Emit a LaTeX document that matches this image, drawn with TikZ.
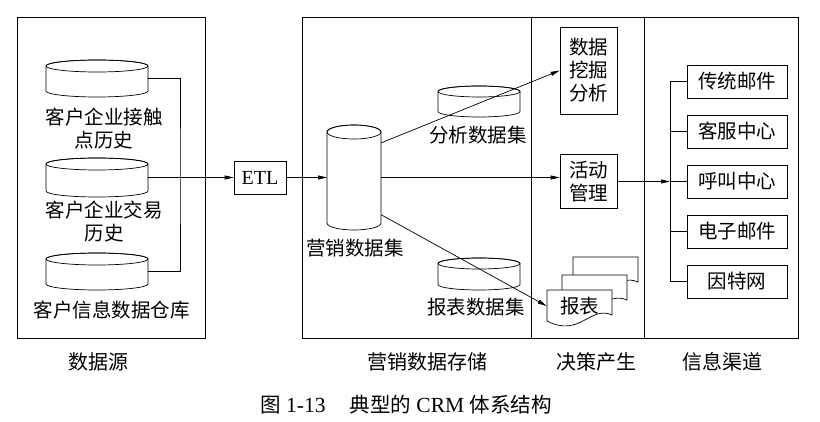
\documentclass[tikz,border=0pt]{standalone}
\usepackage{fontspec}
\setmainfont{Liberation Serif}
\newfontfamily\cjk{Noto Sans CJK SC}
\usetikzlibrary{arrows.meta}

\tikzset{
  zh/.style={font=\cjk\fontsize{19.5}{23}\selectfont, inner sep=0pt, align=center},
  disk/.style={inner sep=0pt, outer sep=0pt},
  box/.style={draw, inner sep=0pt},
  >={Triangle[length=9pt,width=4pt]}
}
% outline of a data set: node name, half width, half height of the end ellipse
\newcommand\dbdrum[3]{%
  \draw[fill=white] ([yshift=-#3pt]#1.north west) -- ([yshift=#3pt]#1.south west)
    arc[start angle=180, end angle=360, x radius=#2pt, y radius=#3pt]
    -- ([yshift=-#3pt]#1.north east)
    arc[start angle=0, end angle=180, x radius=#2pt, y radius=#3pt] -- cycle;
  \draw ([yshift=-#3pt]#1.north) ellipse[x radius=#2pt, y radius=#3pt];
}

\begin{document}
\begin{tikzpicture}[x=1pt,y=-1pt,line width=0.7pt]
            \useasboundingbox (0,0) rectangle (820,422);
            % frames of the four parts
            \draw (17,17) rectangle (205,338);
            \draw (302,17) rectangle (798,338);
            \draw (531,17) -- (531,338);
            \draw (644,17) -- (644,338);
            % data sources
            \node[disk, minimum width=102pt, minimum height=37pt] (db1) at (97,78.5) {};
            \node[disk, minimum width=102pt, minimum height=39pt] (db2) at (97,177.5) {};
            \node[disk, minimum width=102pt, minimum height=37pt] (db3) at (97,271.5) {};
            \dbdrum{db1}{51}{6} \dbdrum{db2}{51}{6} \dbdrum{db3}{51}{6}
            \node[zh] (l1) at (104,129) {客户企业接触\\点历史};
            \node[zh] (l2) at (104,221.5) {客户企业交易\\历史};
            \node[zh] (l3) at (112,310) {客户信息数据仓库};
            \coordinate (j) at (180,177.5);
            \draw (db1.east) -| (j) |- (db3.east);
            \node[box, minimum width=52pt, minimum height=33pt, font=\fontsize{20}{23}\selectfont] (etl) at (260,177.5) {ETL};
            \draw[->] (db2) -- (etl);
            % marketing data storage
            \node[disk, minimum width=54pt, minimum height=105pt] (mkt) at (354,177.5) {};
            \node[disk, minimum width=82pt, minimum height=31pt] (ana) at (479,101.5) {};
            \node[disk, minimum width=82pt, minimum height=32pt] (rep) at (479,274) {};
            \dbdrum{mkt}{27}{7} \dbdrum{ana}{41}{5.5} \dbdrum{rep}{41}{5.5}
            \node[zh] (lm) at (355,248) {营销数据集};
            \node[zh] (la) at (478,135) {分析数据集};
            \node[zh] (lr) at (476,307) {报表数据集};
            \draw[->] (etl) -- (mkt);
            % decisions
            \node[box, zh, minimum width=57pt, minimum height=87pt] (dm) at (588.5,70.5) {数据\\挖掘\\分析};
            \node[box, zh, minimum width=57pt, minimum height=54pt] (act) at (588.5,181.5) {活动\\管理};
            \foreach \dx/\dy in {26/-33,15/-15,0/0}
              \draw[fill=white, shift={(\dx,\dy)}] (547,290) -- (612,290) -- (612,315)
                .. controls (590,305) and (580,338) .. (547,321) -- cycle;
            \node[zh, minimum width=65pt, minimum height=33pt] (rpt) at (579.5,306) {报表};
            \draw[->] (mkt.52) -- (dm.west);
            \draw[->] (mkt.east) -- (mkt.east -| act.west);
            \draw[->] (mkt.-54) -- (rpt.west);
            % channels
            \foreach \t [count=\i] in {传统邮件,客服中心,呼叫中心,电子邮件,因特网} {
              \node[box, zh, minimum width=100pt, minimum height=33pt] (ch\i) at (737,{31.5+50*\i}) {\t};
              \coordinate (b\i) at (670,{31.5+50*\i});
              \draw (b\i) -- (ch\i.west);
            }
            \draw (b1) -- (b5);
            \draw[->] (act) -- (b3);
            % part names and caption
            \node[zh, font=\cjk\fontsize{20}{24}\selectfont] (s1) at (98,362) {数据源};
            \node[zh, font=\cjk\fontsize{20}{24}\selectfont] (s2) at (427,362) {营销数据存储};
            \node[zh, font=\cjk\fontsize{20}{24}\selectfont] (s3) at (596,362) {决策产生};
            \node[zh, font=\cjk\fontsize{20}{24}\selectfont] (s4) at (722,362) {信息渠道};
            \node[font=\fontsize{21.5}{24}\selectfont] (cap) at (406,405)
              {{\cjk\fontsize{20.5}{24}\selectfont 图} 1-13\hspace{24pt}{\cjk\fontsize{20.5}{24}\selectfont 典型的} CRM {\cjk\fontsize{20.5}{24}\selectfont 体系结构}};
        \end{tikzpicture}
\end{document}
